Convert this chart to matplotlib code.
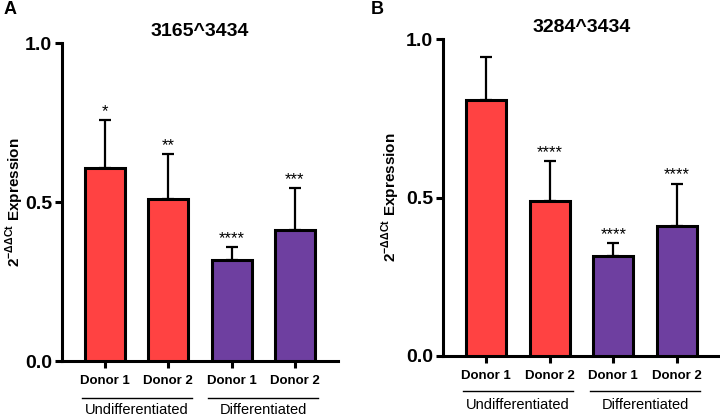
import matplotlib
matplotlib.use("Agg")
import matplotlib.pyplot as plt

plt.rcParams['font.family'] = ['Liberation Sans', 'DejaVu Sans']

categories = ["Donor 1", "Donor 2", "Donor 1", "Donor 2"]
groups = ["Undifferentiated", "Differentiated"]
titles = ["3165^3434", "3284^3434"]
values_A = [0.607, 0.509, 0.318, 0.412]
err_A = [0.151, 0.142, 0.040, 0.132]
stars_A = ["*", "**", "****", "***"]
values_B = [0.808, 0.489, 0.315, 0.410]
err_B = [0.135, 0.126, 0.041, 0.133]
stars_B = ["", "****", "****", "****"]
yticks = [0.0, 0.5, 1.0]
colors = ["#FF4242", "#FF4242", "#6E3FA0", "#6E3FA0"]

fig = plt.figure(figsize=(7.2, 4.16), dpi=100)

def panel(rect, vals, errs, stars, title, letter, letter_xy, ylabel_x, title_y, group_y_line, group_y_text):
    ax = fig.add_axes(rect)
    x = list(range(len(vals)))
    ax.bar(x, vals, width=0.63, color=colors, edgecolor="black", linewidth=2.2, zorder=3)
    ax.errorbar(x, vals, yerr=[[0]*len(vals), errs], fmt="none", ecolor="black",
                elinewidth=1.6, capsize=4.5, capthick=1.6, zorder=2)
    for xi, v, e, s in zip(x, vals, errs, stars):
        if s:
            ax.text(xi, v + e + 0.004, s, ha="center", va="bottom", fontsize=12)
    ax.set_xlim(-0.68, 3.68)
    ax.set_ylim(0, 1.0)
    ax.set_yticks(yticks)
    ax.set_yticklabels([f"{t:.1f}" for t in yticks], fontsize=14, fontweight="bold")
    ax.set_xticks(x)
    ax.set_xticklabels(categories, fontsize=9.5, fontweight="bold")
    for s in ["top", "right"]:
        ax.spines[s].set_visible(False)
    for s in ["left", "bottom"]:
        ax.spines[s].set_linewidth(2.2)
    ax.tick_params(axis="both", width=2.2, length=5, pad=2)
    ax.tick_params(axis="x", pad=5)
    ax.patch.set_alpha(0)
    # group lines
    for gc, gname in zip([0.5, 2.5], groups):
        ax.plot([gc - 0.87, gc + 0.87], [group_y_line, group_y_line], color="black",
                linewidth=1.0, transform=ax.get_xaxis_transform(), clip_on=False)
        ax.text(gc, group_y_text, gname, ha="center", va="center", fontsize=10.5,
                transform=ax.get_xaxis_transform())
    bx = rect[0] + rect[2] / 2
    fig.text(bx, title_y, title, ha="center", va="center", fontsize=14, fontweight="bold")
    fig.text(letter_xy[0], letter_xy[1], letter, ha="left", va="center", fontsize=13, fontweight="bold")
    fig.text(ylabel_x, rect[1] + rect[3] / 2, r"2$^{\mathregular{-\Delta\Delta Ct}}$ Expression",
             rotation=90, ha="center", va="center", fontsize=11, fontweight="bold")
    return ax

panel([62/720, 1 - 361/416, 276/720, 318/416], values_A, err_A, stars_A, titles[0], "A",
      (4/720, 1 - 10/416), 15/720, 1 - 32/416, -0.115, -0.155)
panel([443/720, 1 - 356/416, 277/720, 317/416], values_B, err_B, stars_B, titles[1], "B",
      (371/720, 1 - 10/416), 391/720, 1 - 28/416, -0.11, -0.155)

fig.savefig("out.png", dpi=100)
